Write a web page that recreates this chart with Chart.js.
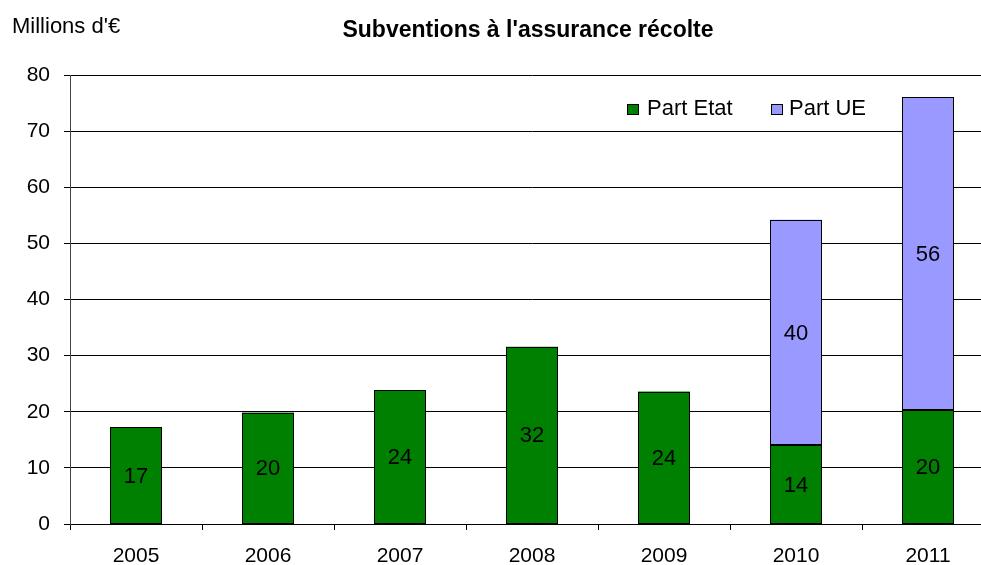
<!DOCTYPE html>
<html>
<head>
<meta charset="utf-8">
<script src="https://cdn.jsdelivr.net/npm/chart.js@4/dist/chart.umd.min.js"></script>
<style>
  html, body { margin: 0; padding: 0; background: #fff; overflow: hidden; }
  #wrap { width: 1000px; height: 565px; }
</style>
</head>
<body>
<div id="wrap"><canvas id="c" width="1000" height="565"></canvas></div>
<script>
const years = ['2005', '2006', '2007', '2008', '2009', '2010', '2011'];
const partEtat = [17.2, 19.85, 23.8, 31.6, 23.6, 14.0, 20.3];
const partUE = [null, null, null, null, null, 40.2, 55.7];
const seriesNames = ['Part Etat', 'Part UE'];
const yTicks = [0, 10, 20, 30, 40, 50, 60, 70, 80];
const chartTitle = "Subventions à l'assurance récolte";
const unitLabel = "Millions d'€";

const FONT = '"Liberation Sans", Arial, sans-serif';
const colors = ['#008000', '#9999FF'];

const textPlugin = {
  id: 'textPlugin',
  afterDatasetsDraw(chart) {
    const ctx = chart.ctx;
    ctx.save();
    // crisp 1px outline round each bar segment, from the library's own element geometry
    ctx.strokeStyle = '#000';
    ctx.lineWidth = 1;
    chart.data.datasets.forEach((ds, i) => {
      const meta = chart.getDatasetMeta(i);
      meta.data.forEach((el, j) => {
        if (ds.data[j] == null) return;
        const p = el.getProps(['x', 'y', 'base', 'width'], true);
        const l = Math.round(p.x - p.width / 2) + 0.5;
        const r = Math.round(p.x + p.width / 2) - 0.5;
        const t = Math.round(p.y) + 0.5;
        const b = Math.round(p.base) - 0.5;
        ctx.strokeRect(l, t, r - l, b - t);
      });
    });
    ctx.fillStyle = '#000';
    ctx.font = '22px ' + FONT;
    ctx.textAlign = 'center';
    ctx.textBaseline = 'middle';
    chart.data.datasets.forEach((ds, i) => {
      const meta = chart.getDatasetMeta(i);
      meta.data.forEach((el, j) => {
        const v = ds.data[j];
        if (v == null) return;
        const yc = (el.y + el.base) / 2;
        ctx.fillText(String(Math.round(v)), el.x, yc + 1);
      });
    });
    ctx.restore();
  },
  afterDraw(chart) {
    const ctx = chart.ctx;
    ctx.save();
    ctx.fillStyle = '#000';
    ctx.textBaseline = 'alphabetic';
    ctx.font = 'bold 23px ' + FONT;
    ctx.textAlign = 'center';
    ctx.fillText(chartTitle, 528, 37);
    ctx.font = '22px ' + FONT;
    ctx.textAlign = 'left';
    ctx.fillText(unitLabel, 12, 33);

    // legend
    const items = [
      { name: seriesNames[0], color: colors[0], bx: 627, tx: 647 },
      { name: seriesNames[1], color: colors[1], bx: 771, tx: 789 }
    ];
    ctx.font = '22px ' + FONT;
    ctx.textBaseline = 'middle';
    items.forEach(it => {
      ctx.fillStyle = it.color;
      ctx.fillRect(it.bx, 104, 12, 11);
      ctx.strokeStyle = '#000';
      ctx.lineWidth = 1;
      ctx.strokeRect(it.bx + 0.5, 104.5, 11, 10);
      ctx.fillStyle = '#000';
      ctx.fillText(it.name, it.tx, 109);
    });
    ctx.restore();
  }
};

new Chart(document.getElementById('c'), {
  type: 'bar',
  data: {
    labels: years,
    datasets: [
      { label: seriesNames[0], data: partEtat, backgroundColor: colors[0], borderWidth: 0 },
      { label: seriesNames[1], data: partUE, backgroundColor: colors[1], borderWidth: 0 }
    ]
  },
  options: {
    responsive: false,
    animation: false,
    devicePixelRatio: 1,
    categoryPercentage: 1,
    barPercentage: 0.394,
    layout: { padding: { left: 0, right: 6, top: 75, bottom: 0 } },
    plugins: {
      legend: { display: false },
      title: { display: false },
      tooltip: { enabled: false }
    },
    scales: {
      x: {
        stacked: true,
        grid: { display: true, drawOnChartArea: false, drawTicks: true, tickLength: 6, color: '#000', offset: true },
        border: { display: true, color: '#000', width: 1 },
        ticks: { color: '#000', font: { family: FONT, size: 21 }, padding: 14, maxRotation: 0 },
        afterFit(scale) { scale.height = 41; }
      },
      y: {
        stacked: true,
        min: 0,
        max: 80,
        afterBuildTicks(scale) { scale.ticks = yTicks.map(v => ({ value: v })); },
        grid: { color: '#000', lineWidth: 1, tickLength: 6, drawTicks: true },
        border: { display: true, color: '#444', width: 1 },
        ticks: { color: '#000', font: { family: FONT, size: 21 }, padding: 14 },
        afterFit(scale) { scale.width = 70; }
      }
    }
  },
  plugins: [textPlugin]
});
</script>
</body>
</html>
